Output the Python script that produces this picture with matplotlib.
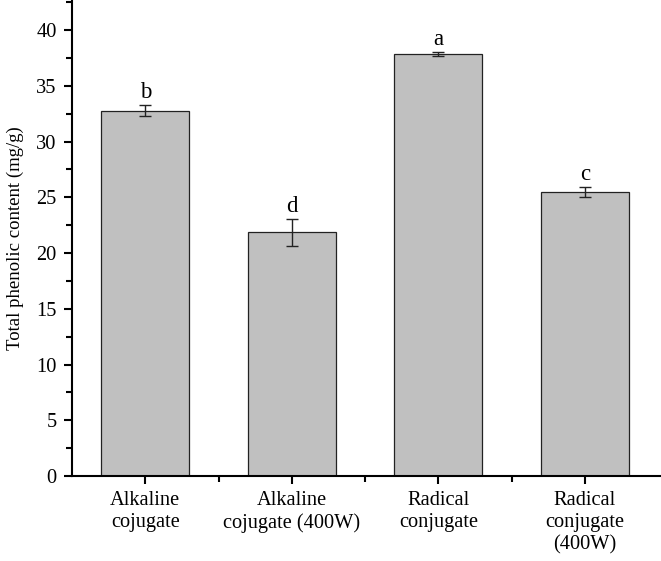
import matplotlib
matplotlib.use("Agg")
import matplotlib.pyplot as plt
import numpy as np
from matplotlib.ticker import MultipleLocator, FixedLocator

categories = ["Alkaline\ncojugate", "Alkaline\ncojugate (400W)", "Radical\nconjugate", "Radical\nconjugate\n(400W)"]
values = [32.75, 21.85, 37.85, 25.45]
errors = [0.5, 1.2, 0.2, 0.45]
letters = ["b", "d", "a", "c"]

plt.rcParams['font.family'] = ['Liberation Serif']

fig = plt.figure(figsize=(6.61, 5.61), dpi=100)
ax = fig.add_axes([72/661, 85/561, 1 - 72/661, 1 - 85/561])

x = np.arange(len(categories))
ax.bar(x, values, width=0.6, color="#c0c0c0", edgecolor="#222222", linewidth=0.9, zorder=2)
ax.errorbar(x, values, yerr=errors, fmt="none", ecolor="#222222", elinewidth=1.0, capsize=4, capthick=1.0, zorder=3)
for xi, v, e, l in zip(x, values, errors, letters):
    ax.text(xi, v + e + 0.2, l, ha="center", va="bottom", fontsize=16.5)

ax.set_xlim(-0.5, 3.52)
ax.set_ylim(0, 42.7)
ax.set_xticks(x)
ax.set_xticklabels(categories, fontsize=14.7, linespacing=1.2)
ax.xaxis.set_minor_locator(FixedLocator([0.5, 1.5, 2.5]))
ax.yaxis.set_major_locator(MultipleLocator(5))
ax.yaxis.set_minor_locator(MultipleLocator(2.5))
ax.tick_params(axis="both", which="major", direction="out", length=6, width=1.5, labelsize=14.7)
ax.tick_params(axis="both", which="minor", direction="out", length=4, width=1.5)
ax.tick_params(axis="x", which="major", pad=5)
ax.tick_params(axis="y", which="major", pad=5)
ax.set_ylabel("Total phenolic content (mg/g)", fontsize=13.5, labelpad=9)
for s in ["top", "right"]:
    ax.spines[s].set_visible(False)
for s in ["left", "bottom"]:
    ax.spines[s].set_linewidth(1.5)

fig.savefig("out.png", dpi=100)
